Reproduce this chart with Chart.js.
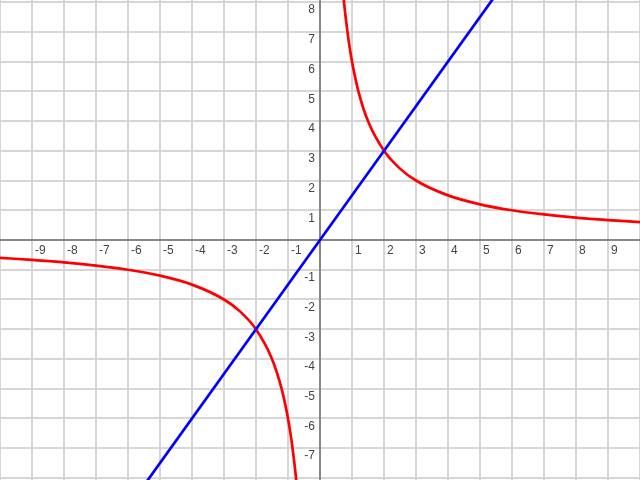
<!DOCTYPE html>
<html>
<head>
<meta charset="utf-8">
<script src="https://cdn.jsdelivr.net/npm/chart.js@4"></script>
<style>
  html, body { margin: 0; padding: 0; background: #fff; }
  #wrap { width: 640px; height: 480px; position: relative; }
</style>
</head>
<body>
<div id="wrap"><canvas id="c"></canvas></div>
<script>
// axis ranges
const X_MIN = -10;
const X_MAX = 10;
const Y_MIN = -8.07;
const Y_MAX = 8.07;

// red hyperbola, right branch (x, y)
const hypRightX = [0.7, 0.74, 0.8, 0.9, 1, 1.2, 1.5, 2, 2.5, 3, 4, 5, 6, 7, 8, 9, 10];
const hypRightY = [8.57, 8.1, 7.5, 6.67, 6, 5, 4, 3, 2.4, 2, 1.5, 1.2, 1, 0.86, 0.75, 0.67, 0.6];

// red hyperbola, left branch
const hypLeftX = [-10, -9, -8, -7, -6, -5, -4, -3, -2.5, -2, -1.5, -1.2, -1, -0.9, -0.8, -0.74, -0.7];
const hypLeftY = [-0.6, -0.67, -0.75, -0.86, -1, -1.2, -1.5, -2, -2.4, -3, -4, -5, -6, -6.67, -7.5, -8.1, -8.57];

// blue straight line through the origin and (2, 3)
const lineX = [-6, 0, 6];
const lineY = [-9, 0, 9];

const RED = "#ff0000";
const BLUE = "#0000ff";
const GRID_COLOR = "#d6d6d6";
const AXIS_COLOR = "#888888";
const LABEL_COLOR = "#444";

const pts = (xs, ys) => xs.map((x, i) => ({ x: x, y: ys[i] }));

const gridColor = (ctx) =>
  ctx.tick && ctx.tick.value === 0 ? AXIS_COLOR : GRID_COLOR;

// the axes sit inside the plot, so they should not reserve any padding
const noPadding = (scale) => {
  scale.paddingTop = 0;
  scale.paddingBottom = 0;
  scale.paddingLeft = 0;
  scale.paddingRight = 0;
};

const tickFont = { family: "'Liberation Sans', Arial, sans-serif", size: 12 };

new Chart(document.getElementById("c"), {
  type: "scatter",
  data: {
    datasets: [
      {
        data: pts(lineX, lineY),
        showLine: true,
        borderColor: BLUE,
        borderWidth: 2.7,
        pointRadius: 0,
      },
      {
        data: pts(hypRightX, hypRightY),
        showLine: true,
        borderColor: RED,
        borderWidth: 2.7,
        pointRadius: 0,
        cubicInterpolationMode: "monotone",
      },
      {
        data: pts(hypLeftX, hypLeftY),
        showLine: true,
        borderColor: RED,
        borderWidth: 2.7,
        pointRadius: 0,
        cubicInterpolationMode: "monotone",
      },
    ],
  },
  options: {
    responsive: true,
    maintainAspectRatio: false,
    animation: false,
    layout: { padding: 0 },
    plugins: {
      legend: { display: false },
      tooltip: { enabled: false },
    },
    scales: {
      x: {
        type: "linear",
        position: { y: 0 },
        min: X_MIN,
        max: X_MAX,
        afterFit: noPadding,
        grid: { color: gridColor, lineWidth: 2, drawTicks: false },
        border: { display: true, color: AXIS_COLOR, width: 2 },
        ticks: {
          stepSize: 1,
          autoSkip: false,
          includeBounds: false,
          align: "start",
          labelOffset: 3,
          padding: 3,
          maxRotation: 0,
          color: LABEL_COLOR,
          font: tickFont,
          callback: (v) => (v === 0 || Math.abs(v) >= 10 ? "" : String(v)),
        },
      },
      y: {
        type: "linear",
        position: "center",
        min: Y_MIN,
        max: Y_MAX,
        afterFit: noPadding,
        grid: { color: gridColor, lineWidth: 2, drawTicks: false },
        border: { display: true, color: AXIS_COLOR, width: 2 },
        ticks: {
          stepSize: 1,
          autoSkip: false,
          includeBounds: false,
          labelOffset: 8,
          padding: 5,
          color: LABEL_COLOR,
          font: tickFont,
          callback: (v) => (v === 0 || v <= -8 ? "" : String(v)),
        },
      },
    },
  },
});
</script>
</body>
</html>
